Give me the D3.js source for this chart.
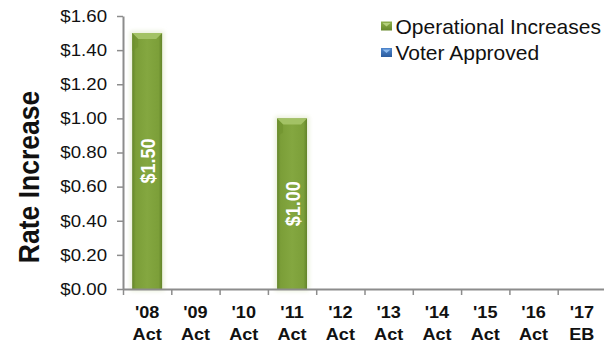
<!DOCTYPE html>
<html>
<head>
<meta charset="utf-8">
<script src="https://cdn.jsdelivr.net/npm/d3@7/dist/d3.min.js"></script>
<style>
  html, body { margin: 0; padding: 0; background: #fff; }
  svg { display: block; font-family: "Liberation Sans", Arial, sans-serif; }
</style>
</head>
<body>
<svg id="chart" width="604" height="343"></svg>
<script>
// Rate increases by year
const years = ["'08", "'09", "'10", "'11", "'12", "'13", "'14", "'15", "'16", "'17"];
const yearKinds = ["Act", "Act", "Act", "Act", "Act", "Act", "Act", "Act", "Act", "EB"];
const operational = [1.50, 0, 0, 1.00, 0, 0, 0, 0, 0, 0];
const voterApproved = [0, 0, 0, 0, 0, 0, 0, 0, 0, 0];
const yTicks = [0, 0.2, 0.4, 0.6, 0.8, 1.0, 1.2, 1.4, 1.6];
const seriesNames = ["Operational Increases", "Voter Approved"];

const svg = d3.select("#chart");
const plotLeft = 123, plotRight = 606, plotTop = 16, plotBottom = 289;
const sx = 1.13; // horizontal text stretch

const x = d3.scaleBand().domain(years).range([plotLeft, plotRight]).paddingInner(0.38).paddingOuter(0.19);
const xEdge = d3.scaleLinear().domain([0, years.length]).range([plotLeft, plotRight]);
const y = d3.scaleLinear().domain([0, 1.6]).range([plotBottom, plotTop]);

// gradients
const defs = svg.append("defs");
const gGreen = defs.append("linearGradient").attr("id", "barGreen").attr("x1", 0).attr("x2", 1).attr("y1", 0).attr("y2", 0);
[[0, "#64852a"], [0.12, "#7b9e38"], [0.5, "#84a740"], [0.88, "#7c9f39"], [1, "#63842a"]]
  .forEach(([o, c]) => gGreen.append("stop").attr("offset", o).attr("stop-color", c));
const gBlue = defs.append("linearGradient").attr("id", "legBlue").attr("x1", 0).attr("x2", 0).attr("y1", 0).attr("y2", 1);
[[0, "#4f86cc"], [1, "#2a5c9f"]].forEach(([o, c]) => gBlue.append("stop").attr("offset", o).attr("stop-color", c));
const gLegG = defs.append("linearGradient").attr("id", "legGreen").attr("x1", 0).attr("x2", 0).attr("y1", 0).attr("y2", 1);
[[0, "#8fb04c"], [1, "#66882a"]].forEach(([o, c]) => gLegG.append("stop").attr("offset", o).attr("stop-color", c));
const halo = defs.append("filter").attr("id", "halo").attr("x", "-30%").attr("y", "-10%").attr("width", "160%").attr("height", "120%");
halo.append("feGaussianBlur").attr("stdDeviation", 2);

const data = years.map((yr, i) => ({ yr, kind: yearKinds[i], op: operational[i], va: voterApproved[i] }));
const barData = data.filter(d => d.op > 0);

// soft glow behind bars
svg.append("g").selectAll("rect").data(barData).join("rect")
  .attr("x", d => x(d.yr) - 2).attr("width", x.bandwidth() + 4)
  .attr("y", d => y(d.op) - 2).attr("height", d => y(0) - y(d.op) + 4)
  .attr("fill", "#e9efd9").attr("filter", "url(#halo)");

// bars
const bars = svg.append("g").selectAll("g").data(barData).join("g");
bars.append("rect")
  .attr("x", d => x(d.yr)).attr("width", x.bandwidth())
  .attr("y", d => y(d.op)).attr("height", d => y(0) - y(d.op))
  .attr("fill", "url(#barGreen)");
// top bevel
bars.append("path")
  .attr("d", d => {
    const x0 = x(d.yr), x1 = x0 + x.bandwidth(), y0 = y(d.op), b = 6;
    return `M${x0},${y0}L${x1},${y0}L${x1 - b},${y0 + b}L${x0 + b},${y0 + b}Z`;
  })
  .attr("fill", "#a3c265");
bars.append("path")
  .attr("d", d => {
    const x0 = x(d.yr), y0 = y(d.op), b = 6;
    return `M${x0},${y0}L${x0 + b},${y0 + b}L${x0 + b},${y0 + 14}L${x0},${y0 + 18}Z`;
  })
  .attr("fill", "#6f922f").attr("opacity", 0.6);

// value labels inside bars
bars.append("text")
  .attr("transform", d => `translate(${x(d.yr) + x.bandwidth() / 2 + 1},${(y(d.op) + y(0)) / 2}) rotate(-90) scale(1,${sx})`)
  .attr("text-anchor", "middle").attr("dy", "0.35em")
  .attr("fill", "#fff").attr("font-weight", "bold").attr("font-size", "18px")
  .text(d => "$" + d.op.toFixed(2));

// y axis
const yAxis = svg.append("g").attr("transform", `translate(${plotLeft},0)`)
  .call(d3.axisLeft(y).tickValues(yTicks).tickSize(6).tickSizeOuter(0).tickFormat(v => "$" + v.toFixed(2)));
yAxis.select(".domain").attr("stroke", "#8c8c8c").attr("stroke-width", 2);
yAxis.selectAll(".tick line").attr("stroke", "#8c8c8c").attr("stroke-width", 1.5);
yAxis.selectAll(".tick text")
  .attr("x", null)
  .attr("transform", `translate(-16,0) scale(${sx},1)`)
  .attr("font-size", "16.5px").attr("fill", "#111").attr("font-family", "Liberation Sans, Arial, sans-serif");

// x axis: boundary tick marks
const xEdges = svg.append("g").attr("transform", `translate(0,${plotBottom})`)
  .call(d3.axisBottom(xEdge).ticks(years.length).tickSize(6).tickSizeOuter(0).tickFormat(""));
xEdges.select(".domain").attr("stroke", "#8c8c8c").attr("stroke-width", 2);
xEdges.selectAll(".tick line").attr("stroke", "#8c8c8c").attr("stroke-width", 1.5);

// x axis: category labels
const xAxis = svg.append("g").attr("transform", `translate(0,${plotBottom})`)
  .call(d3.axisBottom(x).tickSize(0).tickFormat(""));
xAxis.select(".domain").remove();
xAxis.selectAll(".tick").each(function (yr, i) {
  const t = d3.select(this).append("text")
    .attr("transform", `scale(${sx},1)`)
    .attr("text-anchor", "middle").attr("font-weight", "bold").attr("font-size", "16px").attr("fill", "#111")
    .attr("font-family", "Liberation Sans, Arial, sans-serif");
  t.append("tspan").attr("x", 0).attr("y", 29).text(yr);
  t.append("tspan").attr("x", 0).attr("y", 51).text(yearKinds[i]);
});

// y axis title
svg.append("text")
  .attr("transform", `translate(39,177) rotate(-90) scale(1,${sx})`)
  .attr("text-anchor", "middle")
  .attr("font-weight", "bold").attr("font-size", "26.5px").attr("fill", "#111")
  .text("Rate Increase");

// legend
const legendFills = ["url(#legGreen)", "url(#legBlue)"];
const legendLights = ["#b5d07c", "#8dbbef"];
const legend = svg.append("g").selectAll("g").data(seriesNames).join("g")
  .attr("transform", (d, i) => `translate(381,${21.5 + i * 26.5})`);
legend.append("rect").attr("width", 11).attr("height", 9).attr("fill", (d, i) => legendFills[i]);
legend.append("path").attr("d", "M1.5,1.5L9.5,1.5L5.5,5Z").attr("fill", (d, i) => legendLights[i]);
legend.append("text").attr("x", 14.5).attr("y", 12)
  .attr("font-size", "21px").attr("fill", "#111").text(d => d);
</script>
</body>
</html>
